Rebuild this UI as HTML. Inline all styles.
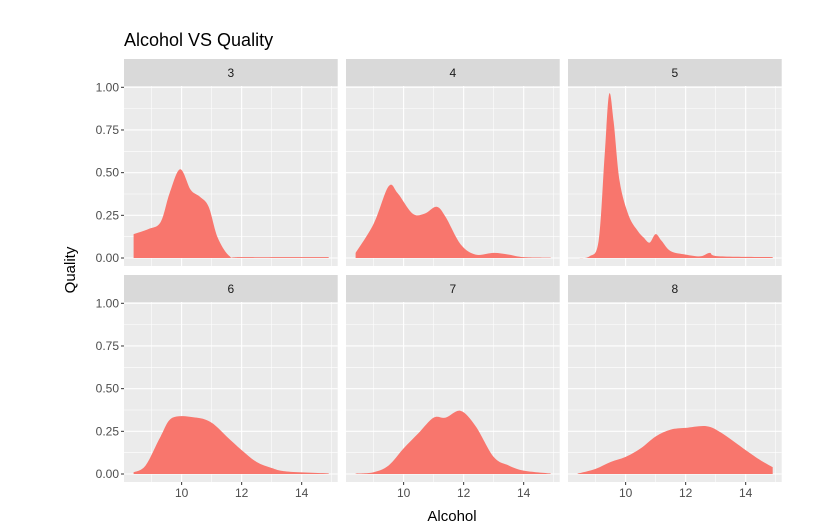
<!DOCTYPE html>
<html><head><meta charset="utf-8"><style>
body{margin:0;background:#fff;}
svg{display:block;font-family:"Liberation Sans",sans-serif;}
</style></head><body>
<svg id="chart" width="831" height="527">
<text x="124" y="46" font-size="18" fill="#000">Alcohol VS Quality</text>
<text x="452" y="521" font-size="15" text-anchor="middle" fill="#000">Alcohol</text>
<text transform="translate(75,270) rotate(-90)" font-size="15" text-anchor="middle" fill="#000">Quality</text>
<g id="panels"></g>
</svg>
<script>
const facetLabels = ["3","4","5","6","7","8"];
const xs3 = [8.4,8.9,9.3,9.6,9.95,10.3,10.6,10.9,11.2,11.6,12,14.9];
const ys3 = [0.14,0.17,0.21,0.38,0.52,0.40,0.36,0.30,0.12,0.01,0.005,0.005];
const xs4 = [8.4,9.0,9.5,9.8,10.3,10.7,11.1,11.4,11.9,12.4,13.0,13.5,14.0,14.9];
const ys4 = [0.03,0.2,0.42,0.38,0.26,0.26,0.30,0.24,0.08,0.02,0.03,0.02,0.005,0.002];
const xs5 = [8.4,8.8,9.1,9.3,9.45,9.6,9.8,10.1,10.4,10.6,10.8,11.0,11.2,11.5,12,12.5,12.8,13.1,14.9];
const ys5 = [0,0.01,0.1,0.6,0.96,0.8,0.45,0.25,0.16,0.12,0.09,0.14,0.1,0.04,0.02,0.01,0.03,0.01,0.005];
const xs6 = [8.4,8.8,9.3,9.7,10.5,11.0,11.5,12.0,12.5,13.0,13.5,14.9];
const ys6 = [0.01,0.05,0.22,0.33,0.33,0.3,0.22,0.14,0.07,0.035,0.015,0.004];
const xs7 = [8.4,9.0,9.5,10,10.5,11,11.4,11.9,12.4,13.0,13.5,14,14.9];
const ys7 = [0.002,0.01,0.05,0.15,0.24,0.33,0.33,0.37,0.28,0.1,0.05,0.02,0.003];
const xs8 = [8.4,9.0,9.5,10,10.5,11,11.5,12,12.7,13.2,14,14.5,14.9];
const ys8 = [0.002,0.03,0.07,0.1,0.15,0.22,0.26,0.27,0.28,0.24,0.14,0.08,0.04];
const xTicks = [10,12,14];
const xTickLabels = ["10","12","14"];
const yTicks = [0,0.25,0.5,0.75,1];
const yTickLabels = ["0.00","0.25","0.50","0.75","1.00"];
const seriesX=[xs3,xs4,xs5,xs6,xs7,xs8], seriesY=[ys3,ys4,ys5,ys6,ys7,ys8];

const NS="http://www.w3.org/2000/svg";
const g=document.getElementById('panels');
const colL=[124,346,568], rowT=[59,275], PW=213.7, SH=27, PH=180;
const xMin=8.08, xMax=15.2;
function mk(t,a,p){const e=document.createElementNS(NS,t);for(const k in a)e.setAttribute(k,a[k]);(p||g).appendChild(e);return e;}
function path(pts){let d="M"+pts[0][0]+","+pts[0][1];
 for(let i=0;i<pts.length-1;i++){const p0=pts[Math.max(0,i-1)],p1=pts[i],p2=pts[i+1],p3=pts[Math.min(pts.length-1,i+2)];
  const c1=[p1[0]+(p2[0]-p0[0])/6,p1[1]+(p2[1]-p0[1])/6],c2=[p2[0]-(p3[0]-p1[0])/6,p2[1]-(p3[1]-p1[1])/6];
  d+=" C"+c1[0]+","+c1[1]+" "+c2[0]+","+c2[1]+" "+p2[0]+","+p2[1];}
 return d;}
for(let i=0;i<6;i++){
 const c=i%3,r=Math.floor(i/3),L=colL[c],T=rowT[r],PT=T+SH;
 const X=v=>L+(v-xMin)/(xMax-xMin)*PW;
 const Y=v=>PT+172-v*170.7;
 const strip=mk('rect',{x:L,y:T,width:PW,height:SH,fill:'#d9d9d9'});
 
 
 const st=mk('text',{x:L+PW/2,y:T+18,'font-size':12,'text-anchor':'middle',fill:'#1a1a1a'});st.textContent=facetLabels[i];
 
 
 const bg=mk('rect',{x:L,y:PT,width:PW,height:PH,fill:'#ebebeb'});
 
 
 [9,11,13,15].forEach(v=>mk('line',{x1:X(v),x2:X(v),y1:PT,y2:PT+PH,stroke:'#fff','stroke-width':0.55}));
 [0.125,0.375,0.625,0.875].forEach(v=>mk('line',{x1:L,x2:L+PW,y1:Y(v),y2:Y(v),stroke:'#fff','stroke-width':0.55}));
 xTicks.forEach(v=>mk('line',{x1:X(v),x2:X(v),y1:PT,y2:PT+PH,stroke:'#fff','stroke-width':1.1}));
 yTicks.forEach(v=>mk('line',{x1:L,x2:L+PW,y1:Y(v),y2:Y(v),stroke:'#fff','stroke-width':1.1}));
 const xsA=seriesX[i],ysA=seriesY[i];
 const pts=xsA.map((x,j)=>[X(x),Y(ysA[j])]);
 const d=path(pts)+" L"+X(xsA[xsA.length-1])+","+Y(0)+" L"+X(xsA[0])+","+Y(0)+" Z";
 const area=mk('path',{d:d,fill:'#f8766d'});
 
 
 if(c===0){yTicks.forEach((v,k)=>{mk('line',{x1:L-3,x2:L,y1:Y(v),y2:Y(v),stroke:'#333','stroke-width':1});
  const t=mk('text',{x:L-5,y:Y(v)+4,'font-size':12,'text-anchor':'end',fill:'#4d4d4d'});t.textContent=yTickLabels[k];
  
  });}
 if(r===1){xTicks.forEach((v,k)=>{mk('line',{x1:X(v),x2:X(v),y1:PT+PH,y2:PT+PH+3,stroke:'#333','stroke-width':1});
  const t=mk('text',{x:X(v),y:PT+PH+15,'font-size':12,'text-anchor':'middle',fill:'#4d4d4d'});t.textContent=xTickLabels[k];
  
  });}
}
</script>
</body></html>
